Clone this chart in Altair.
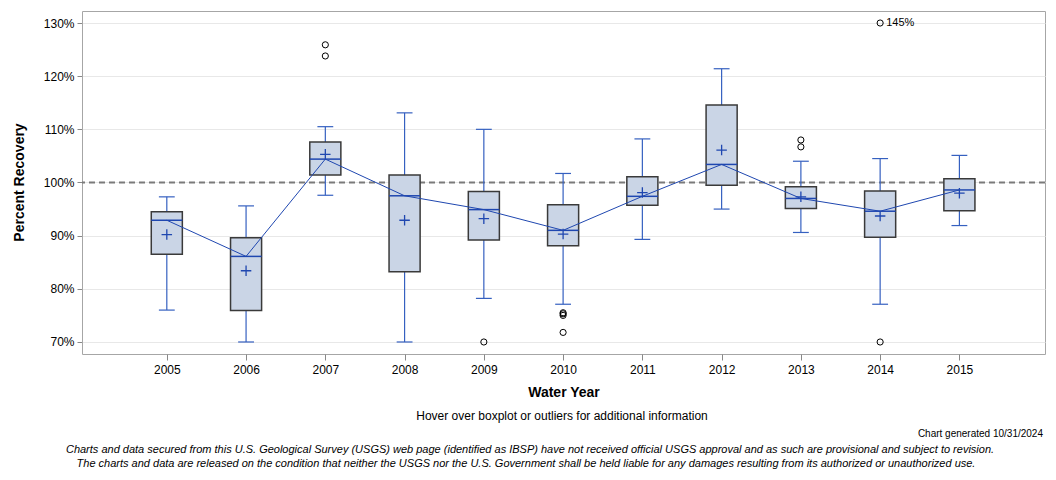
import altair as alt
import pandas as pd

# ---- data ----
years = [2005, 2006, 2007, 2008, 2009, 2010, 2011, 2012, 2013, 2014, 2015]
whisk_lo = [76.0, 70.0, 97.6, 70.0, 78.2, 77.1, 89.3, 95.0, 90.6, 77.1, 91.9]
q1 = [86.5, 75.9, 101.4, 83.2, 89.2, 88.1, 95.7, 99.5, 95.1, 89.7, 94.7]
median = [92.9, 86.1, 104.4, 97.5, 94.9, 91.0, 97.4, 103.4, 97.0, 94.6, 98.6]
q3 = [94.5, 89.6, 107.6, 101.4, 98.3, 95.8, 101.1, 114.6, 99.2, 98.4, 100.7]
whisk_hi = [97.3, 95.6, 110.5, 113.1, 110.0, 101.7, 108.2, 121.4, 104.0, 104.5, 105.1]
mean = [90.2, 83.4, 105.3, 92.9, 93.2, 90.3, 98.1, 106.1, 97.3, 93.7, 98.0]

out_years = [2007, 2007, 2009, 2010, 2010, 2010, 2010, 2013, 2013, 2014, 2014]
out_values = [125.9, 123.8, 70.0, 75.0, 75.3, 75.5, 71.8, 108.0, 106.7, 145.0, 70.0]

y_ticks = [70, 80, 90, 100, 110, 120, 130]
ref_value = [100]

box_df = pd.DataFrame({"year": years, "lo": whisk_lo, "q1": q1, "med": median,
                       "q3": q3, "hi": whisk_hi, "mean": mean})
out_df = pd.DataFrame({"year": out_years, "value": out_values})

BLUE = "#1f47b0"
WBLUE = "#3560c0"
FONT = "Liberation Sans"

xs = alt.Scale(domain=[2003.93, 2016.08], nice=False, zero=False)
ys = alt.Scale(domain=[67.74, 132.26], nice=False, zero=False)

x_axis = alt.Axis(values=years, format="d", grid=False, domain=False, tickColor="#888888",
                  tickSize=6, labelFontSize=12, labelColor="#000000", labelPadding=4,
                  title="Water Year", titleFontSize=14, titleFontWeight="bold",
                  titleColor="#000000", titlePadding=10)
y_axis = alt.Axis(values=y_ticks, labelExpr="datum.value + '%'", grid=True, gridColor="#e8e8e8",
                  domain=False, tickColor="#888888", tickSize=5, labelFontSize=12,
                  labelColor="#000000", labelPadding=3, title=None)

base = alt.Chart(box_df).transform_calculate(
    bx0="datum.year - 0.196", bx1="datum.year + 0.196",
    cx0="datum.year - 0.1", cx1="datum.year + 0.1")

ref = alt.Chart(pd.DataFrame({"v": ref_value})).mark_rule(
    color="#7a7a7a", strokeDash=[6, 4], strokeWidth=2).encode(
    y=alt.Y("v:Q", scale=ys, axis=y_axis))

stem_hi = base.mark_rule(color=WBLUE, strokeWidth=1.2).encode(
    x=alt.X("year:Q", scale=xs, axis=x_axis), y=alt.Y("q3:Q", scale=ys), y2="hi:Q")
stem_lo = base.mark_rule(color=WBLUE, strokeWidth=1.2).encode(
    x=alt.X("year:Q", scale=xs), y=alt.Y("lo:Q", scale=ys), y2="q1:Q")
cap_hi = base.mark_rule(color=WBLUE, strokeWidth=1.2).encode(
    x=alt.X("cx0:Q", scale=xs), x2="cx1:Q", y=alt.Y("hi:Q", scale=ys))
cap_lo = base.mark_rule(color=WBLUE, strokeWidth=1.2).encode(
    x=alt.X("cx0:Q", scale=xs), x2="cx1:Q", y=alt.Y("lo:Q", scale=ys))
box = base.mark_rect(fill="#cad5e6", stroke="#3a3a3a", strokeWidth=1.5).encode(
    x=alt.X("bx0:Q", scale=xs), x2="bx1:Q", y=alt.Y("q1:Q", scale=ys), y2="q3:Q")
med = base.mark_rule(color=BLUE, strokeWidth=1.5).encode(
    x=alt.X("bx0:Q", scale=xs), x2="bx1:Q", y=alt.Y("med:Q", scale=ys))
line = base.mark_line(color=BLUE, strokeWidth=1).encode(
    x=alt.X("year:Q", scale=xs), y=alt.Y("med:Q", scale=ys))
means = base.mark_point(shape="M-1,0L1,0M0,-1L0,1", size=110, filled=False,
                        color=BLUE, strokeWidth=1.3, opacity=1).encode(
    x=alt.X("year:Q", scale=xs), y=alt.Y("mean:Q", scale=ys))

out_base = alt.Chart(out_df).transform_calculate(shown="min(datum.value, 130)")
outs = out_base.mark_point(shape="circle", size=38, filled=False, color="#000000",
                           strokeWidth=1, opacity=1).encode(
    x=alt.X("year:Q", scale=xs), y=alt.Y("shown:Q", scale=ys))
out_lbl = out_base.transform_filter("datum.value > 130").transform_calculate(
    lbl="format(datum.value, 'd') + '%'").mark_text(
    align="left", baseline="middle", dx=6, fontSize=11, color="#000000", font=FONT).encode(
    x=alt.X("year:Q", scale=xs), y=alt.Y("shown:Q", scale=ys), text="lbl:N")

def note(txt, x, y, size=12, align="center", style="normal", weight="normal", angle=0):
    return alt.Chart(pd.DataFrame({"t": [txt]})).mark_text(
        align=align, baseline="middle", fontSize=size, fontStyle=style,
        fontWeight=weight, angle=angle, color="#000000", font=FONT).encode(
        text="t:N", x=alt.value(x), y=alt.value(y))

notes = [
    note("Percent Recovery", -62, 171.5, size=14, weight="bold", angle=270),
    note("Hover over boxplot or outliers for additional information", 480, 405, size=12),
    note("Chart generated 10/31/2024", 961, 423, size=10, align="right"),
    note("Charts and data secured from this U.S. Geological Survey (USGS) web page (identified as IBSP) have not received official USGS approval and as such are provisional and subject to revision.",
         448, 439, size=11, style="italic"),
    note("The charts and data are released on the condition that neither the USGS nor the U.S. Government shall be held liable for any damages resulting from its authorized or unauthorized use.",
         444, 453, size=11, style="italic"),
]

chart = alt.layer(ref, stem_hi, stem_lo, cap_hi, cap_lo, box, med, line, means,
                  outs, out_lbl, *notes).properties(
    width=963, height=343,
    autosize=alt.AutoSizeParams(type="none"),
    padding={"left": 74, "top": 3, "right": 3, "bottom": 118},
).configure(font=FONT).configure_view(stroke="#a6a6a6", strokeWidth=1)

chart.save("out.html", embed_options={"renderer": "svg", "actions": False})
